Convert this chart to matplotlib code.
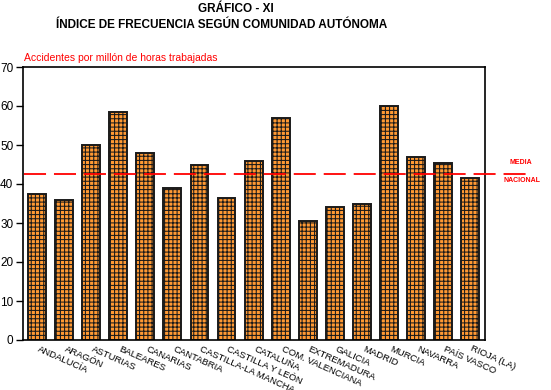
import matplotlib
matplotlib.use("Agg")
import matplotlib.pyplot as plt
from matplotlib.lines import Line2D

categories = ["ANDALUCÍA", "ARAGÓN", "ASTURIAS", "BALEARES", "CANARIAS", "CANTABRIA",
              "CASTILLA-LA MANCHA", "CASTILLA Y LEÓN", "CATALUÑA", "COM. VALENCIANA",
              "EXTREMADURA", "GALICIA", "MADRID", "MURCIA", "NAVARRA", "PAÍS VASCO", "RIOJA (LA)"]
values = [37.5, 36.0, 50.0, 58.5, 48.0, 39.0, 45.0, 36.5, 46.0, 57.0,
          30.5, 34.0, 35.0, 60.0, 47.0, 45.5, 41.5]
media_nacional = 42.5
yticks = [0, 10, 20, 30, 40, 50, 60, 70]

plt.rcParams['font.family'] = ['Liberation Sans', 'DejaVu Sans']
plt.rcParams['hatch.linewidth'] = 0.75

fig = plt.figure(figsize=(5.51, 3.90), dpi=100)
ax = fig.add_axes([23/551, 1-340/390, (485-23)/551, (340-67)/390])

x = list(range(len(categories)))
ax.bar(x, values, width=0.66, color='#FF9933', edgecolor='#1a1a1a', hatch='++++', linewidth=1.4)

ax.set_xlim(-0.52, len(categories) - 1 + 0.55)
ax.set_ylim(0, 70)
ax.set_yticks(yticks)
ax.set_yticklabels([str(t) for t in yticks], fontsize=8.5)
ax.tick_params(axis='y', length=5, width=1, pad=2)
ax.set_xticks(x)
ax.set_xticklabels([])
ax.tick_params(axis='x', length=0)
for s in ax.spines.values():
    s.set_linewidth(1.2)

# labels below axis
for xi, lab in zip(x, categories):
    ax.annotate(lab, xy=(xi, 0), xycoords='data', xytext=(2, -3), textcoords='offset points',
                rotation=-24, rotation_mode='anchor', ha='left', va='top', fontsize=6.8)

# national average dashed line extending beyond axes
fig.canvas.draw()
ydisp = ax.transData.transform((0, media_nacional))[1]
yfig = fig.transFigure.inverted().transform((0, ydisp))[1]
line = Line2D([24/551, 526/551], [yfig, yfig], transform=fig.transFigure,
              color='red', linestyle=(0, (12.2, 4.4)), linewidth=1.3)
fig.add_artist(line)

fig.text(521/551, yfig + 8/390, "MEDIA", color='red', fontsize=5, fontweight='bold', ha='center', va='bottom')
fig.text(522/551, yfig - 3/390, "NACIONAL", color='red', fontsize=5, fontweight='bold', ha='center', va='top')

fig.text(24/551, 1-58/390, "Accidentes por millón de horas trabajadas", color='red', fontsize=7.5,
         ha='left', va='center')

fig.text(236/551, 1-9/390, "GRÁFICO - XI", fontsize=8.5, fontweight='bold', ha='center', va='center',
         family=['Liberation Sans Narrow', 'Liberation Sans', 'DejaVu Sans'])
fig.text(222/551, 1-25/390, "ÍNDICE DE FRECUENCIA SEGÚN COMUNIDAD AUTÓNOMA", fontsize=8.5, fontweight='bold',
         ha='center', va='center', family=['Liberation Sans Narrow', 'Liberation Sans', 'DejaVu Sans'])

fig.savefig("out.png", dpi=100)
